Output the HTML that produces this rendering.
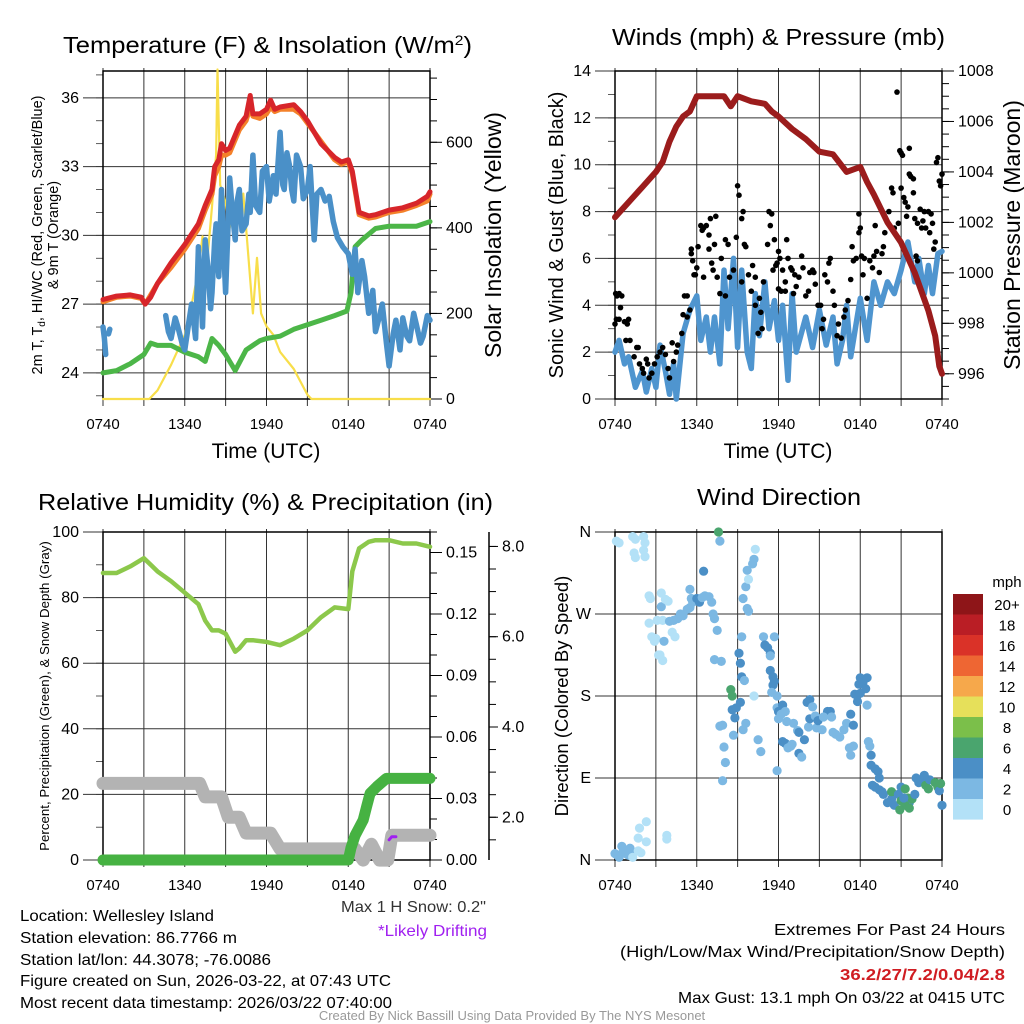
<!DOCTYPE html>
<html><head><meta charset="utf-8"><style>
html,body{margin:0;padding:0;background:#fff;}
svg{display:block;font-family:"Liberation Sans",sans-serif;}
</style></head><body>
<svg id="fig" width="1024" height="1024" viewBox="0 0 1024 1024" xmlns="http://www.w3.org/2000/svg">
<text x="63" y="53" font-size="23" textLength="409" lengthAdjust="spacingAndGlyphs">Temperature (F) &amp; Insolation (W/m<tspan baseline-shift="super" font-size="14">2</tspan>)</text>
<text x="612" y="45" font-size="23" textLength="333" lengthAdjust="spacingAndGlyphs">Winds (mph) &amp; Pressure (mb)</text>
<text x="38" y="510" font-size="23" textLength="455" lengthAdjust="spacingAndGlyphs">Relative Humidity (%) &amp; Precipitation (in)</text>
<text x="697" y="505" font-size="23" textLength="164" lengthAdjust="spacingAndGlyphs">Wind Direction</text>
<g font-size="16">
<text x="20" y="921" textLength="194" lengthAdjust="spacingAndGlyphs">Location: Wellesley Island</text>
<text x="20" y="943" textLength="217" lengthAdjust="spacingAndGlyphs">Station elevation: 86.7766 m</text>
<text x="20" y="965" textLength="251" lengthAdjust="spacingAndGlyphs">Station lat/lon: 44.3078; -76.0086</text>
<text x="20" y="986" textLength="371" lengthAdjust="spacingAndGlyphs">Figure created on Sun, 2026-03-22, at 07:43 UTC</text>
<text x="20" y="1008" textLength="372" lengthAdjust="spacingAndGlyphs">Most recent data timestamp: 2026/03/22 07:40:00</text>
</g>
<g font-size="16">
<text x="774" y="935" textLength="231" lengthAdjust="spacingAndGlyphs">Extremes For Past 24 Hours</text>
<text x="620" y="957" textLength="385" lengthAdjust="spacingAndGlyphs">(High/Low/Max Wind/Precipitation/Snow Depth)</text>
<text x="840" y="980" textLength="165" lengthAdjust="spacingAndGlyphs" fill="#d01c22" font-weight="bold">36.2/27/7.2/0.04/2.8</text>
<text x="678" y="1003" textLength="327" lengthAdjust="spacingAndGlyphs">Max Gust: 13.1 mph On 03/22 at 0415 UTC</text>
</g>
<text x="341" y="912" font-size="16" textLength="145" lengthAdjust="spacingAndGlyphs" fill="#333">Max 1 H Snow: 0.2"</text>
<text x="378" y="936" font-size="16" textLength="109" lengthAdjust="spacingAndGlyphs" fill="#a020f0">*Likely Drifting</text>
<text x="512" y="1020" font-size="13" text-anchor="middle" fill="#999">Created By Nick Bassill Using Data Provided By The NYS Mesonet</text>
</svg>
<script>
// ---------- data (hours since 07:40 UTC) ----------
const timeLabels = ["0740","1340","1940","0140","0740"];
const redT = [0,1,2,2.8,3.1,3.5,4,5,6,7,7.5,8,8.2,8.5,8.7,9,9.3,10,10.5,10.8,11,11.5,12,12.3,12.6,13,14,14.5,15,16,17,17.5,18,18.3,18.8,19.5,20,21,22,23,23.8,24];
const redV = [27.2,27.35,27.4,27.3,27.0,27.3,27.9,28.8,29.6,30.5,31.3,32.0,33.0,33.3,34.0,33.7,33.8,34.8,35.2,36.1,35.3,35.3,35.5,35.9,35.5,35.6,35.7,35.4,35.0,34.0,33.4,33.2,33.3,32.8,31.0,30.85,30.9,31.1,31.2,31.4,31.7,31.9];
const orangeV = [27.1,27.3,27.35,27.25,27.0,27.4,27.9,28.6,29.4,30.3,31.1,31.8,32.6,33.0,33.5,33.5,33.6,34.6,35.0,35.6,35.2,35.1,35.3,35.6,35.4,35.5,35.5,35.3,34.9,34.1,33.3,33.1,33.2,32.7,30.9,30.75,30.8,31.0,31.1,31.3,31.5,31.8];
const greenT = [0,1,2,3,3.5,4,5,6,7,7.5,8,8.5,9,9.7,10.5,11.5,12,13,14,15,16,17,17.9,18.2,18.5,19,20,21,22,23,24];
const greenV = [24.0,24.1,24.4,24.8,25.3,25.2,25.2,24.9,24.7,24.5,25.5,25.2,24.8,24.1,25.0,25.4,25.5,25.6,25.9,26.1,26.3,26.5,26.7,27.5,29.5,29.8,30.3,30.4,30.4,30.4,30.6];
const blueT = [0,0.1,0.2,null,0.4,0.5,null,4.6,4.8,5,5.3,5.5,5.8,6,6.3,6.5,6.8,7,7.2,7.3,7.5,7.7,7.9,8,8.2,8.3,8.5,8.7,8.85,9,9.15,9.3,9.5,9.7,9.85,10,10.2,10.5,10.7,10.8,11,11.2,11.5,11.7,12,12.2,12.5,12.7,13,13.2,13.3,13.5,13.7,13.85,14,14.2,14.5,14.7,15,15.2,15.5,15.7,16,16.3,null,16.6,16.9,17.2,17.6,18,18.3,18.5,18.7,19.0,19.2,19.5,19.8,20,20.3,20.5,20.8,21,21.3,21.5,21.8,22,22.3,22.5,22.8,23,23.3,23.5,23.8,24];
const blueV = [26.0,25.5,24.8,null,25.7,25.9,null,26.5,25.8,25.5,26.4,26.0,25.3,25.0,26.2,27.0,25.5,29.5,27.3,26.0,29.8,28.6,26.8,27.5,29.8,30.5,28.2,32.0,29.5,27.5,30.0,32.5,31.0,29.8,31.5,32.0,30.2,30.5,31.8,31.0,33.5,31.3,31.0,32.8,33.0,31.5,32.6,31.8,34.5,32.2,32.0,33.6,33.0,32.0,31.5,33.5,33.0,31.6,32.0,33.0,29.8,31.8,32.0,31.5,null,31.7,30.6,29.9,29.5,29.2,28.3,29.4,27.5,28.9,28.2,26.6,27.6,25.8,26.5,27.0,25.3,24.3,25.7,26.3,25.0,26.4,25.6,25.4,26.6,26.1,25.3,25.6,26.5,26.3];
const solarT = [0,3.4,4,5,6,6.5,7,7.3,7.7,8,8.3,8.4,8.6,9,9.3,9.7,10,10.3,10.5,11,11.3,11.6,12,12.5,13,14,15,15.3,24];
const solarV = [0,0,20,80,150,220,300,380,340,450,570,770,500,460,400,450,430,480,400,200,330,200,170,150,110,70,10,0,0];
const windT = [0,0.3,0.7,1,1.5,2,2.3,2.7,3,3.3,3.7,4,4.3,4.5,5,5.5,6,6.3,6.7,7,7.3,7.7,8,8.3,8.7,9,9.3,9.7,10,10.3,10.6,11,11.3,11.7,12,12.3,12.7,13,13.3,14,14.5,15,15.5,16,16.3,16.7,17,17.3,18,18.5,19,19.5,20,20.5,21,21.5,22,22.3,22.7,23,23.3,23.7,24];
const windV = [2,2.5,1.5,1.8,0.5,1.2,0.3,1.3,0.5,2.3,1.2,0.2,1.5,0,2.8,3.8,4.4,2.5,3.5,2,3.5,1.5,5.5,3,6,2.2,5.5,2,1.3,4.5,2.7,5,3,4.2,2.5,4,0.8,4.5,2,3.5,2.2,3.8,2.3,3.5,1.5,2.5,4,1.8,4.3,2.5,5,4,5,4.5,5.5,6.7,5,6,4.5,5.7,4.5,6.2,6.3];
const gustT = [0,0.05,0.15,0.3,0.5,0.1,0.3,0.4,0.7,0.9,1.0,0.8,1.1,1.4,1.6,1.7,1.8,2.0,2.1,2.3,2.4,2.5,2.7,2.9,3.1,3.3,3.5,3.7,3.9,4.0,4.3,4.2,4.6,4.5,4.9,5.0,5.1,5.3,5.3,5.5,5.8,5.7,5.6,5.6,6.1,6.0,5.9,6.3,6.5,6.7,6.4,6.9,6.5,6.9,7.0,7.1,7.3,7.4,7.2,7.5,7.7,7.8,8.1,8.3,8.1,8.4,8.7,8.9,9.0,9.1,9.3,9.4,9.3,9.5,9.6,9.8,10.0,10.1,10.3,10.3,10.6,10.7,10.8,10.5,10.9,11.2,11.3,11.4,11.5,11.7,11.6,11.8,11.9,12.0,12.1,12.3,12.0,12.2,12.5,12.6,12.7,12.9,12.5,13.0,13.2,13.3,13.5,13.1,13.7,13.8,14.0,14.2,14.3,14.5,14.6,14.7,14.9,15.1,15.3,15.2,15.4,15.6,15.7,15.8,16.0,16.1,16.3,16.4,16.6,16.8,16.9,17.1,17.3,17.5,17.4,17.7,17.9,18.0,17.9,18.1,18.2,18.3,18.5,18.7,18.9,19.0,19.2,19.4,19.6,19.7,19.1,19.8,20.1,20.3,20.4,20.5,20.8,20.7,20.9,21.0,21.1,21.0,21.2,21.3,21.5,21.4,21.6,21.6,21.7,21.9,21.9,22.0,22.2,22.1,22.2,22.4,22.5,22.6,22.7,22.8,23.0,23.1,23.2,23.3,23.4,23.5,23.6,23.7,23.8,23.9,24.0];
const gustV = [3.2,4.5,4.4,4.5,4.4,3.4,3.4,3.9,3.3,3.2,3.4,2.5,2.5,1.8,2.2,2.2,1.5,1.3,1.1,1.7,1.5,0.9,1.1,1.5,1.8,2.0,2.2,1.9,1.3,0.9,1.6,2.4,2.3,2.0,2.8,3.6,4.4,4.4,3.5,3.8,5.3,5.9,6.2,6.4,6.5,5.6,5.3,7.4,7.3,7.4,7.2,7.0,5.2,6.4,7.7,5.8,6.6,7.8,5.5,5.2,4.5,6.0,6.8,6.6,4.4,5.2,5.5,6.9,9.1,8.7,7.7,8.0,5.0,6.6,6.5,5.3,4.6,5.7,5.2,4.0,4.3,3.7,3.0,2.8,5.0,6.6,8.0,7.4,7.9,6.8,5.5,5.7,5.8,6.3,6.0,5.5,4.7,4.6,4.6,6.8,6.0,5.6,5.0,5.5,5.3,4.8,5.2,4.5,6.1,5.6,4.4,4.6,5.4,5.5,5.4,4.9,4.0,4.0,3.4,3.0,5.3,5.0,5.8,6.0,4.6,4.0,2.7,3.2,2.6,3.5,3.8,4.2,5.1,5.9,6.5,6.0,7.1,7.3,7.9,6.1,5.3,6.0,4.3,5.9,5.6,6.1,6.3,5.4,6.2,6.5,7.4,7.1,8.0,9.0,8.8,7.3,7.5,13.1,10.6,10.5,10.4,9.0,8.6,8.4,8.2,7.8,10.7,9.6,9.5,9.4,8.8,7.7,7.5,6.1,5.9,8.1,7.3,7.6,8.0,7.3,8.0,7.1,7.9,7.5,6.4,6.7,10.1,10.3,9.3,9.1,9.6];
const presT = [0,1,2,3,3.5,4,4.5,5,5.5,6,7,8,8.5,9,10,11,11.5,12,13,14,15,16,17,18,18.5,19,20,21,21.5,22,23,23.5,23.8,24];
const presV = [1002.2,1002.8,1003.4,1004.0,1004.4,1005.2,1005.8,1006.2,1006.4,1007.0,1007.0,1007.0,1006.6,1007.0,1006.8,1006.7,1006.4,1006.2,1005.7,1005.3,1004.8,1004.7,1004.0,1004.2,1003.6,1003.1,1002.0,1001.2,1000.6,1000.0,998.5,997.5,996.3,996.0];
const rhT = [0,1,2,3,3.5,4,5,6,7,7.5,8,8.5,9,9.7,10,10.5,11,12,13,14,15,16,17,18,18.3,18.8,19.5,20,21,22,23,24];
const rhV = [87.5,87.5,89.5,92,90,88,85,81.5,78,73,70,70,69,63.5,64.5,67,67,66.5,65.5,67.5,70,74,77,76.5,88,95,97,97.5,97.5,96.5,96.5,95.5];
const precipT = [0,18,18.2,18.5,19.1,19.35,19.6,20.1,20.8,24];
const precipV = [0,0,0.006,0.012,0.0195,0.026,0.0325,0.0358,0.0398,0.0398];
const snowT = [0,7.1,7.5,8.7,9.2,10,10.5,12.3,13,18.5,19.1,19.7,20.3,20.9,21.2,24];
const snowV = [2.75,2.75,2.45,2.45,2.0,2.0,1.65,1.65,1.3,1.3,1.05,1.4,1.05,1.05,1.6,1.6];
const driftT = [21.0,21.2,21.5];
const driftV = [1.5,1.57,1.57];
const dirT = [0.1,0.3,1.3,1.5,2.1,2.2,2.1,1.4,1.5,2.2,0,0.2,0.3,0.5,0.6,0.8,1.0,1.1,1.3,1.1,1.8,1.7,1.9,2.3,2.3,1.7,3.8,3.8,2.5,2.6,2.5,2.7,2.9,3.0,3.2,3.3,3.5,3.6,3.4,3.1,3.5,3.4,3.7,3.9,4.0,4.3,4.6,4.8,4.2,4.4,5.0,5.3,5.5,5.5,5.6,5.7,6.0,6.2,6.4,6.6,6.9,7.1,7.2,7.3,6.5,7.5,7.3,7.8,7.9,7.7,8.0,8.1,7.9,8.7,8.6,8.8,7.6,7.7,8.5,8.6,8.9,9.2,9.1,9.2,9.3,9.5,9.3,9.4,9.7,9.8,9.6,9.7,10.1,10.2,10.3,9.8,9.4,9.6,10.5,10.7,10.2,10.9,11.0,11.2,11.4,11.4,11.7,11.4,11.6,11.6,11.7,11.5,11.9,11.9,12.0,12.3,12.0,12.2,12.5,12.6,12.3,12.5,12.7,12.9,11.9,13.0,13.1,13.4,13.5,13.5,13.7,13.9,14.2,14.3,14.1,14.3,14.5,14.7,14.8,14.9,15.2,15.6,15.8,15.9,15.3,16.0,16.2,16.5,16.8,17.0,17.2,17.5,17.3,17.3,17.5,17.6,17.9,18.0,18.2,18.4,18.0,18.5,18.5,17.8,18.6,18.7,18.8,18.8,19.1,19.3,19.4,18.9,19.1,19.4,19.6,19.7,20.3,20.5,20.0,20.3,21.0,20.8,21.3,21.5,21.6,21.0,21.8,22.0,22.3,22.5,22.8,23.0,23.1,23.5,23.7,23.8,24,22.1,22.7,23.9,21.3,21.6,20.9,21.2];
const dirV = [350,348,355,352,355,348,340,337,332,333,7,5,3,15,10,7,5,8,3,13,35,10,8,20,42,24,23,27,290,287,260,245,240,243,225,225,219,240,278,263,263,293,286,284,262,263,265,270,250,245,268,275,277,297,287,283,287,283,288,290,289,283,270,265,317,252,220,218,148,147,124,107,87,137,165,156,360,350,187,180,167,173,227,216,201,197,245,287,276,273,300,318,325,330,341,308,143,150,132,119,180,245,236,233,227,224,245,208,201,192,196,184,180,167,163,170,155,160,163,152,130,128,123,125,98,127,150,142,140,117,113,132,146,155,173,176,168,158,145,153,143,163,163,157,157,140,138,135,143,150,123,125,115,160,148,182,193,200,195,188,183,170,200,174,130,125,115,104,100,97,90,82,80,77,75,72,67,60,63,75,80,72,78,68,63,65,67,72,85,87,82,78,88,85,80,76,60,90,93,84,60,57,55,68];
const dirS = [1,1,1,1,1,1,1,1,1,1,2,2,2,2,2,2,2,2,1,2,1,1,1,1,1,1,1,1,1,1,1,1,1,1,1,1,1,2,2,1,1,1,1,1,2,2,2,2,1,1,3,3,3,3,3,3,4,4,3,3,3,2,2,2,4,2,3,3,2,2,2,2,2,2,4,4,6,2,6,6,4,4,4,4,4,2,2,2,2,3,2,2,3,3,1,1,3,2,2,2,1,3,4,4,4,2,2,4,4,4,4,2,3,3,4,4,2,2,2,3,4,4,2,2,2,2,2,2,4,4,2,4,2,4,4,4,2,2,2,4,2,4,4,2,2,2,2,2,2,2,2,2,2,4,4,4,4,4,4,4,4,2,4,4,2,2,4,4,4,4,4,4,4,4,4,4,4,4,4,6,4,4,6,6,4,6,6,4,4,4,6,6,4,6,6,4,4,4,4,6,6,6,6,4,4];
const cbLabels = ["20+","18","16","14","12","10","8","6","4","2","0"];
const cbColors = ["#8e1518","#ba1e25","#da3228","#ee6633","#f6a84b","#e6e05a","#7bbf4a","#4aa56e","#4b8fc6","#7cb8e3","#b3e1f7"];

// ---------- drawing ----------
const NS = "http://www.w3.org/2000/svg";
const svg = document.getElementById("fig");
function mk(tag, attrs, parent) {
  const e = document.createElementNS(NS, tag);
  for (const k in attrs) e.setAttribute(k, attrs[k]);
  (parent || svg).appendChild(e);
  return e;
}
function lin(v0, v1, p0, p1) { return v => p0 + (v - v0) / (v1 - v0) * (p1 - p0); }
function path(T, V, xs, ys, color, w, name, g) {
  let d = "", pen = false;
  for (let i = 0; i < T.length; i++) {
    if (T[i] === null || V[i] === null) { pen = false; continue; }
    d += (pen ? "L" : "M") + xs(T[i]).toFixed(1) + "," + ys(V[i]).toFixed(1);
    pen = true;
  }
  const e = mk("path", {d: d, fill: "none", stroke: color, "stroke-width": w, "stroke-linejoin": "round", "stroke-linecap": "round"}, g);
  
  
  return e;
}
function txt(x, y, s, size, anchor, g, name, rot) {
  const e = mk("text", {x: x, y: y, "font-size": size, "text-anchor": anchor || "middle"}, g);
  if (rot) e.setAttribute("transform", "rotate(-90 " + x + " " + y + ")");
  e.textContent = s;
  
  
  return e;
}
function panel(p, pname, yTicks, ys, yFmt, minorTicks) {
  const g = mk("g", {});
  
  
  const grid = mk("g", {stroke: "#333", "stroke-width": 1}, g);
  
  
  const xs = lin(0, 24, p.l, p.r);
  for (let h = 0; h <= 24; h += 3) {
    const x = xs(h);
    mk("line", {x1: x, x2: x, y1: p.t - 3, y2: p.b + 7}, grid);
  }
  timeLabels.forEach((s, i) => {
    txt(xs(i * 6), p.b + 30, s, 15, "middle", g, pname + '-x-tick-label');
  });
  yTicks.forEach(v => {
    const y = ys(v);
    mk("line", {x1: p.l - 20, x2: p.r, y1: y, y2: y}, grid);
    txt(p.l - 24, y + 5, yFmt(v), 16, "end", g, pname + '-y-tick-label');
  });
  (minorTicks || []).forEach(v => {
    const y = ys(v);
    mk("line", {x1: p.l - 7, x2: p.l, y1: y, y2: y, "stroke-width": 0.8}, grid);
  });
  const fr = mk("rect", {x: p.l, y: p.t, width: p.r - p.l, height: p.b - p.t, fill: "none", stroke: "#000", "stroke-width": 1.5}, g);
  
  
  return {g: g, xs: xs};
}
function rightAxis(p, g, vs, labels, fmt, minor, name, x0, len) {
  const ax = mk("g", {stroke: "#000", "stroke-width": 1}, g);
  
  
  const xa = x0 === undefined ? p.r : x0;
  if (x0 !== undefined) mk("line", {x1: xa, x2: xa, y1: p.t, y2: p.b, "stroke-width": 1.5}, ax);
  minor.forEach(v => { const y = vs(v); mk("line", {x1: xa, x2: xa + 7, y1: y, y2: y}, ax); });
  labels.forEach(v => {
    const y = vs(v);
    mk("line", {x1: xa, x2: xa + (len || 12), y1: y, y2: y}, ax);
    txt(xa + (len || 12) + 4, y + 5, fmt(v), 16, "start", g, name + '-label');
  });
}
const range = (a, b, s) => { const r = []; for (let v = a; v <= b + 1e-9; v += s) r.push(+v.toFixed(4)); return r; };

// Panel 1: temperature
const P1 = {l: 103, r: 430, t: 71, b: 399};
const y1 = lin(22.86, 37.17, P1.b, P1.t);
const y1r = lin(0, 766.6, P1.b, P1.t);
const a1 = panel(P1, "temperature-panel", [24, 27, 30, 33, 36], y1, v => v, range(23, 37, 1));
rightAxis(P1, a1.g, y1r, [0, 200, 400, 600], v => v, range(0, 750, 50), "insolation-axis");
path(solarT, solarV, a1.xs, y1r, "#f8de4a", 2.2, "solar-insolation-line", a1.g);
path(greenT, greenV, a1.xs, y1, "#4cb648", 5, "dewpoint-line", a1.g);
path(blueT, blueV, a1.xs, y1, "#4a90c8", 5.5, "wind-chill-line", a1.g);
path(redT, orangeV, a1.xs, y1, "#f4812a", 5, "temp-9m-line", a1.g);
path(redT, redV, a1.xs, y1, "#d7252a", 5, "temp-2m-line", a1.g);
txt(266, 458, "Time (UTC)", 21, "middle", a1.g, "temperature-x-title");
txt(501, 235, "Solar Insolation (Yellow)", 23, "middle", a1.g, "insolation-axis-title", true);
const tl = txt(42, 235, "", 14.5, "middle", a1.g, "temperature-y-title", true);
tl.innerHTML = '2m T, T<tspan font-size="10" dy="3">d</tspan><tspan dy="-3">, HI/WC (Red, Green, Scarlet/Blue)</tspan>';
txt(58, 235, "& 9m T (Orange)", 14.5, "middle", a1.g, "temperature-y-title-2", true);

// Panel 2: winds
const P2 = {l: 615, r: 942, t: 71, b: 399};
const y2 = lin(0, 14, P2.b, P2.t);
const y2r = lin(995.0, 1008, P2.b, P2.t);
const a2 = panel(P2, "winds-panel", [0, 2, 4, 6, 8, 10, 12, 14], y2, v => v, range(0, 14, 1));
rightAxis(P2, a2.g, y2r, [996, 998, 1000, 1002, 1004, 1006, 1008], v => v, range(995, 1008, 0.5), "pressure-axis");
path(windT, windV, a2.xs, y2, "#4f95cf", 5.5, "sonic-wind-line", a2.g);
gustT.forEach((t, i) => {
  const c = mk("circle", {cx: a2.xs(t).toFixed(1), cy: y2(gustV[i]).toFixed(1), r: 2.8, fill: "#000"}, a2.g);
  
  
});
path(presT, presV, a2.xs, y2r, "#9b1c1c", 6, "pressure-line", a2.g);
txt(778, 458, "Time (UTC)", 21, "middle", a2.g, "winds-x-title");
txt(563, 235, "Sonic Wind & Gust (Blue, Black)", 20, "middle", a2.g, "wind-y-title", true);
txt(1020, 235, "Station Pressure (Maroon)", 23, "middle", a2.g, "pressure-axis-title", true);

// Panel 3: humidity
const P3 = {l: 103, r: 430, t: 532, b: 860};
const y3 = lin(0, 100, P3.b, P3.t);
const y3p = lin(0, 0.16, P3.b, P3.t);
const y3s = lin(1.053, 8.32, P3.b, P3.t);
const a3 = panel(P3, "humidity-panel", [0, 20, 40, 60, 80, 100], y3, v => v, range(0, 100, 10));
rightAxis(P3, a3.g, y3p, [0, 0.03, 0.06, 0.09, 0.12, 0.15], v => v.toFixed(2), range(0, 0.16, 0.01), "precip-axis");
rightAxis(P3, a3.g, y3s, [2, 4, 6, 8], v => v.toFixed(1), range(1.5, 8, 0.5), "snow-axis", 489, 9);
path(snowT, snowV, a3.xs, y3s, "#b3b3b3", 13, "snow-depth-line", a3.g);
path(driftT, driftV, a3.xs, y3s, "#a020f0", 3, "drift-line", a3.g);
path(precipT, precipV, a3.xs, y3p, "#46b242", 11, "precip-line", a3.g);
path(rhT, rhV, a3.xs, y3, "#8cc84b", 4.5, "rh-line", a3.g);
txt(49, 696, "Percent, Precipitation (Green), & Snow Depth (Gray)", 13.3, "middle", a3.g, "humidity-y-title", true);

// Panel 4: wind direction
const P4 = {l: 615, r: 942, t: 532, b: 860};
const y4 = lin(0, 360, P4.b, P4.t);
const a4 = panel(P4, "direction-panel", [0, 90, 180, 270, 360], y4, v => ["N","E","S","W","N"][v / 90], []);
function spdColor(s) { const k = Math.min(10, Math.floor(s / 2)); return cbColors[10 - k]; }
dirT.forEach((t, i) => {
  const c = mk("circle", {cx: a4.xs(t).toFixed(1), cy: y4(dirV[i]).toFixed(1), r: 4.6, fill: spdColor(dirS[i])}, a4.g);
  
  
});
txt(568, 696, "Direction (Colored By Speed)", 18.5, "middle", a4.g, "direction-y-title", true);
const cb = mk("g", {});


cbColors.forEach((c, i) => {
  const r = mk("rect", {x: 953, y: 594 + i * 20.5, width: 30, height: 20.6, fill: c}, cb);
  
  
  txt(1007, 594 + i * 20.5 + 16, cbLabels[i], 15, "middle", cb, "colorbar-label");
});
txt(1007, 587, "mph", 15, "middle", cb, "colorbar-title");
</script>
</body></html>
